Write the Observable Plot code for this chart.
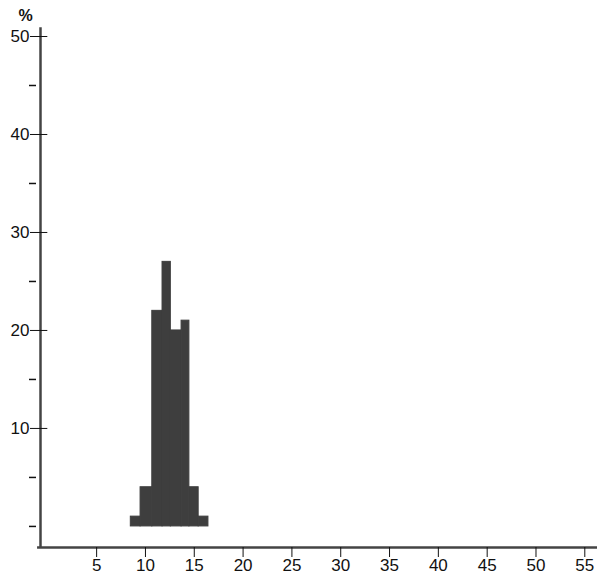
<!DOCTYPE html>
<html>
<head>
<meta charset="utf-8">
<script src="https://cdn.jsdelivr.net/npm/d3@7"></script>
<script src="https://cdn.jsdelivr.net/npm/@observablehq/plot@0.6"></script>
<style>
  html, body { margin: 0; padding: 0; background: #fff; }
  #chart { width: 602px; height: 575px; }
  #chart svg g[aria-label$="tick label"] text { font-size: 17px; font-family: "Liberation Sans", Arial, sans-serif; }
</style>
</head>
<body>
<div id="chart"></div>
<script>
// Histogram bins (left edge, right edge) and percentages
const binLo = [8.5, 9.5, 10.7, 11.75, 12.6, 13.7, 14.5, 15.45];
const binHi = [9.5, 10.7, 11.75, 12.6, 13.7, 14.5, 15.45, 16.45];
const percent = [1, 4, 22, 27, 20, 21, 4, 1];

const xTicks = [5, 10, 15, 20, 25, 30, 35, 40, 45, 50, 55];
const yMajorTicks = [10, 20, 30, 40, 50];
const yMinorTicks = [0, 5, 15, 25, 35, 45];
const yUnit = "%";

const bins = percent.map((p, i) => ({lo: binLo[i], hi: binHi[i], p}));

const xMin = -0.75, xMax = 56.3, yMin = -2.15, yMax = 50;

const chart = Plot.plot({
  width: 602,
  height: 575,
  marginLeft: 40,
  marginRight: 5,
  marginTop: 36,
  marginBottom: 28,
  style: {fontFamily: "Liberation Sans, Arial, sans-serif", fontSize: "17px", color: "#111", background: "#fff"},
  x: {domain: [xMin, xMax]},
  y: {domain: [yMin, yMax]},
  marks: [
    Plot.rect(bins, {x1: "lo", x2: "hi", y1: 0, y2: "p", fill: "#3e3e3e", stroke: "#3e3e3e", strokeWidth: 1}),
    Plot.ruleX([xMin], {y1: yMin, y2: 50.9, stroke: "#444", strokeWidth: 2.5}),
    Plot.ruleY([yMin], {x1: -1.05, x2: xMax, stroke: "#444", strokeWidth: 2.5}),
    Plot.axisX(xTicks, {anchor: "bottom", tickSize: 10, tickPadding: 1, fontSize: 17, label: null}),
    Plot.axisY(yMajorTicks, {anchor: "left", tickSize: 10, tickPadding: 1, fontSize: 17, label: null}),
    Plot.ruleY(yMajorTicks, {x1: xMin, x2: 0, stroke: "#111", strokeWidth: 1}),
    Plot.axisY(yMinorTicks, {anchor: "left", tickSize: 7, dx: -4, tickFormat: () => "", label: null, strokeWidth: 1.5}),
    Plot.text([yUnit], {frameAnchor: "top-left", dx: -15, dy: -21, textAnchor: "middle", lineAnchor: "middle", fontSize: 16, fontWeight: "bold"})
  ]
});
document.getElementById("chart").append(chart);
</script>
</body>
</html>
